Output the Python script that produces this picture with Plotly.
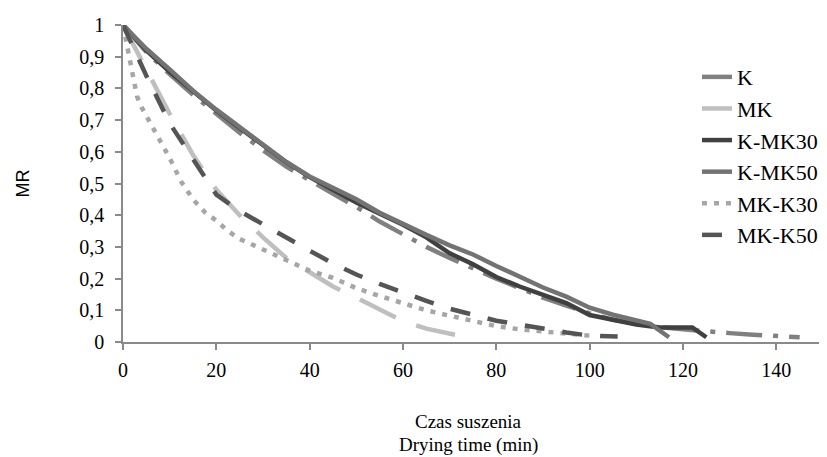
import plotly.graph_objects as go

# ---- data ----
t_K = [0, 5, 10, 15, 20, 25, 30, 35, 40, 45, 50, 55, 60, 65, 70, 75, 80, 85, 90, 95,
       100, 105, 110, 115, 120, 125, 130, 135, 140, 145]
mr_K = [1.0, 0.915, 0.845, 0.78, 0.72, 0.66, 0.605, 0.553, 0.51, 0.47, 0.426, 0.38, 0.338,
        0.30, 0.265, 0.232, 0.2, 0.17, 0.14, 0.115, 0.09, 0.07, 0.057, 0.047, 0.04, 0.033,
        0.028, 0.023, 0.018, 0.015]

t_MK = [0, 5, 10, 15, 20, 25, 30, 35, 40, 45, 50, 55, 60, 65, 70, 73]
mr_MK = [1.0, 0.86, 0.72, 0.59, 0.48, 0.40, 0.33, 0.265, 0.22, 0.175, 0.14, 0.103, 0.066,
         0.042, 0.027, 0.017]

t_KMK30 = [0, 5, 10, 15, 20, 25, 30, 35, 40, 45, 50, 55, 60, 65, 70, 75, 80, 85, 90, 95,
           100, 105, 110, 115, 120, 122, 125]
mr_KMK30 = [1.0, 0.92, 0.852, 0.79, 0.73, 0.675, 0.62, 0.567, 0.52, 0.48, 0.44, 0.405, 0.37,
            0.33, 0.28, 0.245, 0.205, 0.175, 0.148, 0.123, 0.085, 0.07, 0.055, 0.046, 0.047,
            0.046, 0.015]

t_KMK50 = [0, 5, 10, 15, 20, 25, 30, 35, 40, 45, 50, 55, 60, 65, 70, 75, 80, 85, 90, 95,
           100, 105, 110, 113, 117]
mr_KMK50 = [1.0, 0.925, 0.86, 0.793, 0.733, 0.678, 0.622, 0.568, 0.522, 0.485, 0.45, 0.408,
            0.372, 0.338, 0.305, 0.276, 0.24, 0.207, 0.172, 0.143, 0.108, 0.086, 0.066, 0.057,
            0.015]

t_MKK30 = [0, 1, 2, 3, 4, 5, 7.5, 10, 12.5, 15, 17.5, 20, 22.5, 25, 30, 35, 40, 45, 50, 55,
           60, 65, 70, 75, 80, 85, 90, 95, 100]
mr_MKK30 = [1.0, 0.92, 0.845, 0.775, 0.74, 0.713, 0.65, 0.58, 0.505, 0.45, 0.41, 0.383, 0.35,
            0.325, 0.292, 0.258, 0.225, 0.202, 0.17, 0.145, 0.122, 0.10, 0.083, 0.066, 0.05,
            0.04, 0.033, 0.025, 0.02]

t_MKK50 = [0, 5, 10, 15, 20, 25, 30, 35, 40, 45, 50, 55, 60, 65, 70, 75, 80, 85, 90, 95,
           100, 106]
mr_MKK50 = [1.0, 0.84, 0.69, 0.575, 0.465, 0.413, 0.37, 0.327, 0.288, 0.248, 0.213, 0.183,
            0.155, 0.13, 0.105, 0.085, 0.067, 0.055, 0.042, 0.03, 0.02, 0.017]

x_ticks = [0, 20, 40, 60, 80, 100, 120, 140]
y_ticks = [0, 0.1, 0.2, 0.3, 0.4, 0.5, 0.6, 0.7, 0.8, 0.9, 1]
y_tick_text = ["0", "0,1", "0,2", "0,3", "0,4", "0,5", "0,6", "0,7", "0,8", "0,9", "1"]
x_title_lines = ["Czas suszenia", "Drying time (min)"]

series = [
    ("K", t_K, mr_K, "#808080", "36px,11px,5px,11px"),
    ("MK", t_MK, mr_MK, "#bfbfbf", "40px,22px"),
    ("K-MK30", t_KMK30, mr_KMK30, "#404040", "solid"),
    ("K-MK50", t_KMK50, mr_KMK50, "#737373", "solid"),
    ("MK-K30", t_MKK30, mr_MKK30, "#a6a6a6", "5px,7px"),
    ("MK-K50", t_MKK50, mr_MKK50, "#555555", "20px,18px"),
]

fig = go.Figure()
for i, (name, xs, ys, col, dash) in enumerate(series):
    fig.add_trace(go.Scatter(
        x=xs, y=ys, name=name, mode="lines", legendgroup=name,
        line=dict(color=col, width=4.5, dash=dash),
    ))

axis_col = "#8a8a8a"
title_font = dict(family="Liberation Serif", size=19, color="black")
fig.update_layout(
    width=819, height=449,
    margin=dict(l=115, r=4, t=17, b=115),
    paper_bgcolor="white", plot_bgcolor="white",
    font=dict(family="Liberation Serif", size=20, color="black"),
    showlegend=True,
    legend=dict(
        x=0.82, y=0.902, xanchor="left", yanchor="top",
        font=dict(family="Liberation Serif", size=22, color="black"),
        bgcolor="rgba(0,0,0,0)", tracegroupgap=0,
    ),
    xaxis=dict(
        range=[0, 150], tickvals=x_ticks, ticks="outside", ticklen=6, tickwidth=1.5,
        tickcolor=axis_col, showline=True, linecolor=axis_col, linewidth=1.5,
        showgrid=False, zeroline=False, ticklabelstandoff=3,
        tickfont=dict(family="Liberation Serif", size=20, color="black"),
    ),
    yaxis=dict(
        range=[0, 1], tickvals=y_ticks, ticktext=y_tick_text, ticks="outside", ticklen=6,
        tickwidth=1.5, tickcolor=axis_col, showline=True, linecolor=axis_col, linewidth=1.5,
        showgrid=False, zeroline=False, ticklabelstandoff=7,
        tickfont=dict(family="Liberation Serif", size=20, color="black"),
        title=dict(text="MR", font=dict(family="Liberation Sans", size=18, color="black"),
                   standoff=45),
    ),
    annotations=[
        dict(text=x_title_lines[0], xref="paper", yref="paper",
             x=0.493, y=-0.2508, xanchor="center", yanchor="middle", showarrow=False,
             font=title_font),
        dict(text=x_title_lines[1], xref="paper", yref="paper",
             x=0.493, y=-0.3234, xanchor="center", yanchor="middle", showarrow=False,
             font=title_font),
    ],
)

fig.write_html("out.html")
